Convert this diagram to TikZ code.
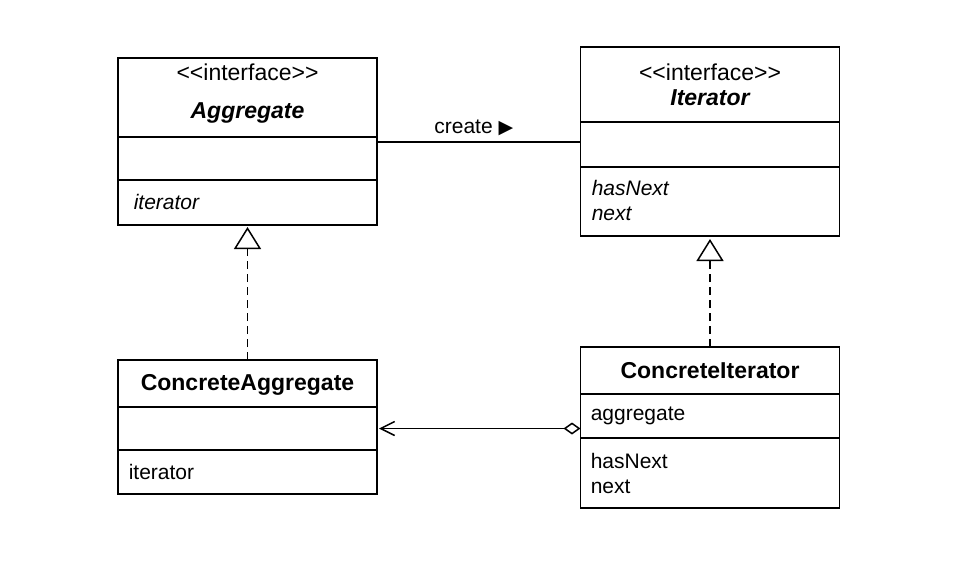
\documentclass[tikz,border=0pt]{standalone}
\usepackage{fontspec}
\setmainfont{Liberation Sans}[Ligatures=TeXOff]
\newfontfamily\symfont{DejaVu Sans}
\usetikzlibrary{arrows.meta,positioning}

\begin{document}
\begin{tikzpicture}[x=1pt,y=-1pt,line width=1.5pt,
	part/.style={draw,rectangle,outer sep=0pt,inner sep=0pt,minimum width=259pt},
	head/.style={font=\fontsize{23}{26}\selectfont},
	item/.style={font=\fontsize{21}{25}\selectfont,align=left,anchor=west,inner sep=0pt},
	real/.style={dash pattern=on 8pt off 5pt,-{Triangle[open,length=22pt,width=27pt]}},
	assoc/.style={{Diamond[open,length=17pt,width=12pt]}-{Straight Barb[length=14pt,width=14pt]}}]
	\useasboundingbox (0,0) rectangle (958,565);
	% Aggregate
	\node[part,minimum height=79pt] (agg) at (247.5,97.5) {};
	\node[part,minimum height=43pt,below=0pt of agg] (aggA) {};
	\node[part,minimum height=45pt,below=0pt of aggA] (aggO) {};
	\node[head] at (247.5,72) {<<interface>>};
	\node[head] at (247.5,113) {\bfseries\itshape Aggregate};
	\node[item] at (133,202) {\itshape iterator};
	% Iterator
	\node[part,minimum height=75pt] (iter) at (710,84.5) {};
	\node[part,minimum height=45pt,below=0pt of iter] (iterA) {};
	\node[part,minimum height=69pt,below=0pt of iterA] (iterO) {};
	\node[head] at (710,72) {<<interface>>};
	\node[head] at (710,98) {\bfseries\itshape Iterator};
	\node[item] at (591,200.5) {\itshape hasNext\\\itshape next};
	% ConcreteAggregate
	\node[part,minimum height=47pt] (cagg) at (247.5,383.5) {};
	\node[part,minimum height=43pt,below=0pt of cagg] (caggA) {};
	\node[part,minimum height=44pt,below=0pt of caggA] (caggO) {};
	\node[head] at (247.5,385) {\bfseries ConcreteAggregate};
	\node[item] at (128,472) {iterator};
	% ConcreteIterator
	\node[part,minimum height=47pt] (citer) at (710,370.5) {};
	\node[part,minimum height=44pt,below=0pt of citer] (citerA) {};
	\node[part,minimum height=70pt,below=0pt of citerA] (citerO) {};
	\node[head] at (710,371) {\bfseries ConcreteIterator};
	\node[item] at (590,416) {aggregate};
	\node[item] at (590,473) {hasNext\\next};
	% connectors
	\draw ([yshift=-5pt]aggA.north east) -- ([yshift=-5pt]aggA.north east -| iterA.west)
		node[midway,above=2pt,xshift=-5pt,font=\fontsize{21}{25}\selectfont] (create) {create {\symfont\fontsize{19}{22}\selectfont ▶}};
	\draw[real,shorten >=2pt] (cagg) -- (aggO);
	\draw[real,shorten >=3pt] (citer) -- (iterO);
	\draw[assoc,shorten >=2pt] (caggA.east -| citerA.west) -- (caggA.east);
\end{tikzpicture}
\end{document}
